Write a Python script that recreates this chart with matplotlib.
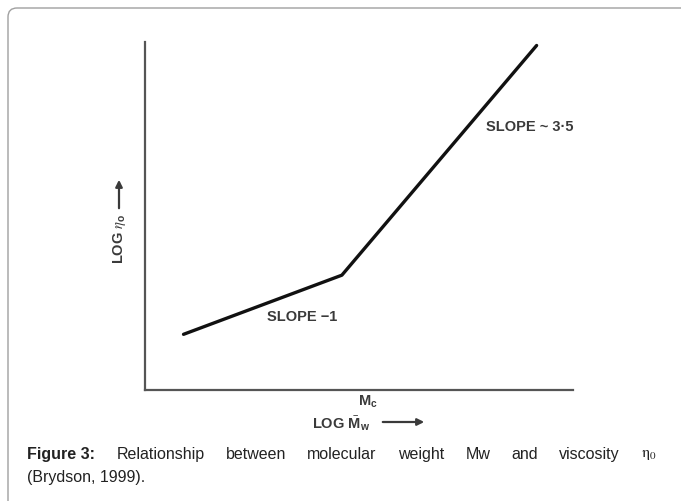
import matplotlib.pyplot as plt
from matplotlib.patches import FancyBboxPatch

plt.rcParams['font.family'] = ['Liberation Sans', 'DejaVu Sans']
plt.rcParams['mathtext.fontset'] = 'stix'

# schematic values (arbitrary units, axes run 0..10)
log_mw = [0.9, 4.6, 9.15]
log_eta = [1.6, 3.3, 9.9]
slope_labels = ['SLOPE ~ 3·5', 'SLOPE \u22121']

caption_1 = ['Figure 3:', 'Relationship', 'between', 'molecular', 'weight',
             'Mw', 'and', 'viscosity', r'$\mathrm{\eta}_\mathrm{0}$']
caption_2 = '(Brydson, 1999).'

fig = plt.figure(figsize=(6.81, 5.02), dpi=100)

# pixel overlay for frame, labels and caption
bg = fig.add_axes([0, 0, 1, 1])
bg.set_xlim(0, 681)
bg.set_ylim(502, 0)
bg.axis('off')
bg.add_patch(FancyBboxPatch((8, 9), 900, 700, boxstyle='round,pad=0,rounding_size=9',
                            ec='#a0a0a0', fc='white', lw=1.0))

# the chart itself
ax = fig.add_axes([145 / 681, (502 - 391) / 502, (573 - 145) / 681, (391 - 43) / 502])
ax.patch.set_alpha(0)
ax.set_xlim(0, 10)
ax.set_ylim(0, 10)
ax.spines['top'].set_visible(False)
ax.spines['right'].set_visible(False)
for s in ['left', 'bottom']:
    ax.spines[s].set_color('#555555')
    ax.spines[s].set_linewidth(1.6)
ax.set_xticks([])
ax.set_yticks([])
ax.plot(log_mw, log_eta, color='#111111', lw=2.4, solid_capstyle='round')

txt = dict(color='#3a3a3a', fontweight='bold', fontsize=10.5, ha='center', va='center')
bg.text(530, 127, slope_labels[0], **txt)
bg.text(302, 317, slope_labels[1], **txt)
bg.text(368, 402, r'M$_\mathregular{c}$', **txt)
bg.text(341, 424, r'LOG $\bar{\mathregular{M}}_\mathregular{w}$', **txt)
bg.annotate('', xy=(427, 423), xytext=(380, 423),
            arrowprops=dict(arrowstyle='-|>', color='#3a3a3a', lw=1.6, mutation_scale=10))
bg.text(119, 239, r'LOG $\eta_\mathregular{o}$', rotation=90, **txt)
bg.annotate('', xy=(119, 178), xytext=(119, 212),
            arrowprops=dict(arrowstyle='-|>', color='#3a3a3a', lw=1.6, mutation_scale=10))

# justified caption, first line
fs = 11.5
words = []
for i, w in enumerate(caption_1):
    words.append(bg.text(27, 455, w, fontsize=fs, color='#222222', va='center', ha='left',
                         fontweight='bold' if i == 0 else 'normal'))
fig.canvas.draw()
r = fig.canvas.get_renderer()
widths = [t.get_window_extent(r).width for t in words]
gap = (657 - 27 - sum(widths)) / (len(words) - 1)
x = 27
for t, w in zip(words, widths):
    t.set_x(x)
    x += w + gap
bg.text(27, 478, caption_2, fontsize=fs, color='#222222', va='center', ha='left')

fig.savefig('out.png', dpi=100)
